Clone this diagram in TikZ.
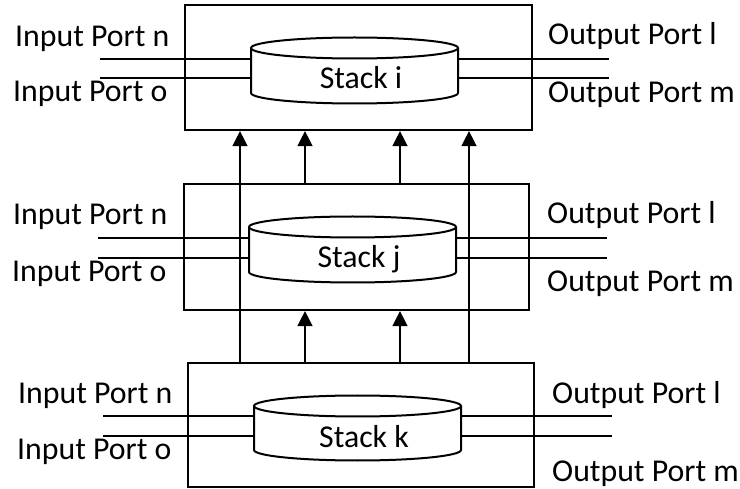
\documentclass[tikz,border=0pt]{standalone}
\usepackage{fontspec}
\setmainfont{Carlito}
\usetikzlibrary{arrows.meta}

% Cylinder outline: #1 left x, #2 right x, #3 top rim y, #4 bottom rim y, #5 rim half-height
\newcommand{\drawcyl}[5]{%
  \draw[cyl] ({(#1+#2)/2},#3) ellipse [x radius={(#2-#1)/2}, y radius=#5];
  \draw[cyl] (#1,#3) -- (#1,#4)
    arc [start angle=180, end angle=0, x radius={(#2-#1)/2}, y radius=#5]
    -- (#2,#3);
}

\begin{document}
\begin{tikzpicture}[x=1pt, y=-1pt,
  box/.style={draw, line width=2.2pt, rectangle, inner sep=0pt},
  cyl/.style={line width=2pt},
  port/.style={line width=1.1pt},
  link/.style={line width=1.4pt, -{Triangle[length=15pt, width=15pt]}},
  lbl/.style={inner sep=0pt, anchor=base west, font=\fontsize{31.8}{38}\selectfont},
  stk/.style={inner sep=0pt, anchor=base, font=\fontsize{31.8}{38}\selectfont}]

\useasboundingbox (0,0) rectangle (740,489);

% ---------- enclosing boxes ----------
\node[box, minimum width=347pt, minimum height=125pt] (bi) at (358.5,67.5) {};
\node[box, minimum width=345pt, minimum height=126pt] (bj) at (356.5,247) {};
\node[box, minimum width=346pt, minimum height=124pt] (bk) at (361,425) {};

% ---------- stack i ----------
\drawcyl{251}{458}{48}{93}{10.5}
\coordinate (ci-n) at (251,59);  \coordinate (ci-o) at (251,78);
\coordinate (ci-l) at (458,59);  \coordinate (ci-m) at (458,78);
\node[stk] (si) at (361,89) {Stack i};
\coordinate (pi-n) at (100,59);  \coordinate (pi-o) at (100,78);
\coordinate (pi-l) at (609,59);  \coordinate (pi-m) at (609,78);
\draw[port] (pi-n) -- (ci-n);  \draw[port] (pi-o) -- (ci-o);
\draw[port] (ci-l) -- (pi-l);  \draw[port] (ci-m) -- (pi-m);
\node[lbl] (ti-n) at (15,47)   {Input Port n};
\node[lbl] (ti-o) at (13,102)  {Input Port o};
\node[lbl] (ti-l) at (548,45)  {Output Port l};
\node[lbl] (ti-m) at (548,103) {Output Port m};

% ---------- stack j ----------
\drawcyl{249}{456}{227}{272}{10.5}
\coordinate (cj-n) at (249,238);  \coordinate (cj-o) at (249,258);
\coordinate (cj-l) at (456,238);  \coordinate (cj-m) at (456,258);
\node[stk] (sj) at (359,268) {Stack j};
\coordinate (pj-n) at (98,238);   \coordinate (pj-o) at (98,258);
\coordinate (pj-l) at (607,238);  \coordinate (pj-m) at (607,258);
\draw[port] (pj-n) -- (cj-n);  \draw[port] (pj-o) -- (cj-o);
\draw[port] (cj-l) -- (pj-l);  \draw[port] (cj-m) -- (pj-m);
\node[lbl] (tj-n) at (13,225)  {Input Port n};
\node[lbl] (tj-o) at (12,282)  {Input Port o};
\node[lbl] (tj-l) at (547,224) {Output Port l};
\node[lbl] (tj-m) at (547,292) {Output Port m};

% ---------- stack k ----------
\drawcyl{254}{461}{406}{450}{10.5}
\coordinate (ck-n) at (254,416);  \coordinate (ck-o) at (254,436);
\coordinate (ck-l) at (461,416);  \coordinate (ck-m) at (461,436);
\node[stk] (sk) at (364,447) {Stack k};
\coordinate (pk-n) at (103,416);  \coordinate (pk-o) at (103,436);
\coordinate (pk-l) at (612,416);  \coordinate (pk-m) at (612,436);
\draw[port] (pk-n) -- (ck-n);  \draw[port] (pk-o) -- (ck-o);
\draw[port] (ck-l) -- (pk-l);  \draw[port] (ck-m) -- (pk-m);
\node[lbl] (tk-n) at (18,404)  {Input Port n};
\node[lbl] (tk-o) at (17,460)  {Input Port o};
\node[lbl] (tk-l) at (552,404) {Output Port l};
\node[lbl] (tk-m) at (552,482) {Output Port m};

% ---------- links between the boxes ----------
\draw[link] (bk.north -| 240,0) -- (bi.south -| 240,0);
\draw[link] (bk.north -| 469,0) -- (bi.south -| 469,0);
\draw[link] (bj.north -| 305,0) -- (bi.south -| 305,0);
\draw[link] (bj.north -| 400,0) -- (bi.south -| 400,0);
\draw[link] (bk.north -| 305,0) -- (bj.south -| 305,0);
\draw[link] (bk.north -| 400,0) -- (bj.south -| 400,0);

\end{tikzpicture}
\end{document}
